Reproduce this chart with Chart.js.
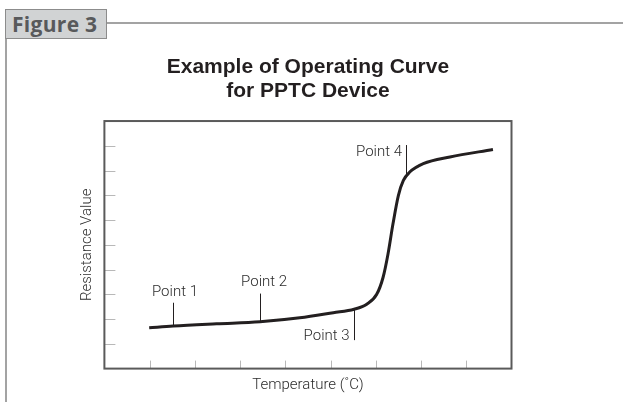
<!DOCTYPE html>
<html>
<head>
<meta charset="utf-8">
<script src="https://cdn.jsdelivr.net/npm/chart.js@4/dist/chart.umd.min.js"></script>
<style>
  body { margin: 0; background: #fff; }
  #wrap { position: relative; width: 623px; height: 402px; overflow: hidden; }
  #tag {
    position: absolute; left: 5px; top: 9px; width: 100px; height: 28px;
    background: #d1d3d4; border: 1px solid #8c8c8c;
    font: bold 21px "Open Sans", sans-serif; color: #58595b;
    line-height: 28px; text-indent: 6px; letter-spacing: 0.3px;
  }
  #rule { position: absolute; left: 107px; right: 0; top: 22px; border-top: 2px solid #a3a3a3; }
  #side { position: absolute; left: 5px; top: 39px; bottom: 0; border-left: 2px solid #a3a3a3; }
  canvas { position: absolute; left: 0; top: 0; }
</style>
</head>
<body>
<div id="wrap">
  <div id="tag">Figure 3</div>
  <div id="rule"></div>
  <div id="side"></div>
  <canvas id="Canvas" width="623" height="402"></canvas>
</div>
<script>
// curva de operacao
let temperatura = [0.99, 1.52, 2.48, 3.44, 4.32, 5.06, 5.52, 5.80, 6.02, 6.16, 6.27, 6.38, 6.50, 6.61, 6.75, 7.05, 7.64, 8.59];
let resistencia = [1.65, 1.72, 1.81, 1.89, 2.05, 2.26, 2.40, 2.60, 3.00, 3.68, 4.63, 5.85, 7.00, 7.60, 7.94, 8.28, 8.55, 8.85];
let ticksX = [1, 2, 3, 4, 5, 6, 7, 8];
let ticksY = [1, 2, 3, 4, 5, 6, 7, 8, 9];

// pontos marcados
let pontosNome = ["Point 1", "Point 2", "Point 3", "Point 4"];
let pontosX = [1.52, 3.44, 5.52, 6.67];
let pontosY = [1.72, 1.89, 2.40, 7.84];

// onde termina a linha e onde fica o texto de cada ponto
let marcas = [
  { fim: 2.66, tx: 1.56, ty: 3.10, align: "center" },
  { fim: 3.03, tx: 3.53, ty: 3.48, align: "center" },
  { fim: 1.15, tx: 5.42, ty: 1.31, align: "right" },
  { fim: 9.03, tx: 6.58, ty: 8.75, align: "right" }
];

let moldura = {
  id: "moldura",
  afterDatasetsDraw(chart) {
    let ctx = chart.ctx;
    let a = chart.chartArea;
    let x = chart.scales.x;
    let y = chart.scales.y;
    ctx.save();

    // tracinhos dos eixos (para dentro)
    ctx.strokeStyle = "#b8b8b8";
    ctx.lineWidth = 1;
    ticksX.forEach(function (v) {
      let px = Math.round(x.getPixelForValue(v)) + 0.5;
      ctx.beginPath();
      ctx.moveTo(px, a.bottom);
      ctx.lineTo(px, a.bottom - 8);
      ctx.stroke();
    });
    ticksY.forEach(function (v) {
      let py = Math.round(y.getPixelForValue(v)) + 0.5;
      ctx.beginPath();
      ctx.moveTo(a.left, py);
      ctx.lineTo(a.left + 11, py);
      ctx.stroke();
    });

    // caixa
    ctx.strokeStyle = "#5a5a5a";
    ctx.lineWidth = 2;
    ctx.strokeRect(a.left, a.top, a.right - a.left, a.bottom - a.top);

    // linhas e textos dos pontos
    ctx.strokeStyle = "#231f20";
    ctx.lineWidth = 1;
    ctx.fillStyle = "#2b2b2b";
    ctx.font = "300 15px Roboto";
    ctx.textBaseline = "middle";
    pontosNome.forEach(function (nome, i) {
      let m = marcas[i];
      let px = Math.round(x.getPixelForValue(pontosX[i])) + 0.5;
      ctx.beginPath();
      ctx.moveTo(px, y.getPixelForValue(pontosY[i]));
      ctx.lineTo(px, y.getPixelForValue(m.fim));
      ctx.stroke();
      ctx.textAlign = m.align;
      ctx.fillText(nome, x.getPixelForValue(m.tx), y.getPixelForValue(m.ty));
    });
    ctx.restore();
  }
};

function criarGrafico() {
  let ctx = document.getElementById("Canvas").getContext("2d");

  new Chart(ctx, {
    type: "scatter",
    data: {
      datasets: [{
        data: temperatura.map(function (t, i) { return { x: t, y: resistencia[i] }; }),
        showLine: true,
        borderColor: "#231f20",
        borderWidth: 3,
        pointRadius: 0,
        cubicInterpolationMode: "monotone"
      }]
    },
    options: {
      responsive: false,
      animation: false,
      layout: { padding: { left: 78, right: 111.5, top: 0, bottom: 7.4 } },
      plugins: {
        legend: { display: false },
        tooltip: { enabled: false },
        title: {
          display: true,
          fullSize: false,
          text: ["Example of Operating Curve", "for PPTC Device"],
          color: "#231f20",
          font: { family: "Liberation Sans", size: 21, weight: "bold", lineHeight: 1.12 },
          padding: { top: 55.5, bottom: 18.5 }
        }
      },
      scales: {
        x: {
          type: "linear",
          min: 0,
          max: 9,
          ticks: { display: false },
          grid: { display: false },
          border: { display: false },
          title: {
            display: true,
            text: "Temperature (˚C)",
            color: "#2b2b2b",
            font: { family: "Roboto", size: 15, weight: "300", lineHeight: 1.2 },
            padding: { top: 0, bottom: 0 }
          }
        },
        y: {
          type: "linear",
          min: 0,
          max: 10,
          ticks: { display: false },
          grid: { display: false },
          border: { display: false },
          title: {
            display: true,
            text: "Resistance Value",
            color: "#2b2b2b",
            font: { family: "Roboto", size: 15, weight: "300", lineHeight: 1.2 },
            padding: { top: 0, bottom: 0.4 }
          }
        }
      }
    },
    plugins: [moldura]
  });
}

criarGrafico();
</script>
</body>
</html>
